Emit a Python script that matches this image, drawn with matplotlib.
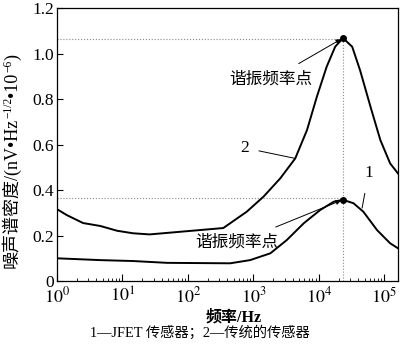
import matplotlib
matplotlib.use("Agg")
import matplotlib.pyplot as plt
from matplotlib.ticker import LogLocator, FixedLocator, NullFormatter
from matplotlib.transforms import IdentityTransform

plt.rcParams['font.family'] = ['Liberation Serif', 'Noto Sans CJK SC']
plt.rcParams['mathtext.fontset'] = 'stix'

# Data (frequency in Hz, noise density)
freq_2 = [1, 1.41, 2.5, 4.6, 8.3, 14.5, 26, 347, 442, 794, 1429, 2570, 4365,
          6607, 9333, 13183, 17783, 23442, 32359, 42658, 61660, 87096,
          123027, 162181]
noise_2 = [0.316, 0.29, 0.255, 0.242, 0.221, 0.21, 0.205, 0.233, 0.254, 0.305,
           0.371, 0.451, 0.539, 0.664, 0.81, 0.942, 1.03, 1.068, 1.03, 0.927,
           0.766, 0.62, 0.517, 0.473]

freq_1 = [1, 4.6, 14.5, 48, 442, 891, 1820, 3236, 5888, 10471, 16982, 23442,
          33884, 47863, 77625, 123027, 162181]
noise_1 = [0.10, 0.092, 0.088, 0.08, 0.078, 0.092, 0.122, 0.18, 0.254, 0.312,
           0.349, 0.357, 0.342, 0.305, 0.224, 0.166, 0.144]

peak_freq = 23442
peak_2 = 1.068
peak_1 = 0.357
guide_2 = 1.062
guide_1 = 0.365

yticks = [0, 0.2, 0.4, 0.6, 0.8, 1.0, 1.2]
ytick_labels = ['0', '0.2', '0.4', '0.6', '0.8', '1.0', '1.2']
xticks = [1, 10, 100, 1000, 10000, 100000]
xtick_labels = [r'$10^{0}$', r'$10^{1}$', r'$10^{2}$', r'$10^{3}$', r'$10^{4}$', r'$10^{5}$']

# y label pieces: (text, is_superscript)
ylabel_parts = [('噪声谱密度/(nV•Hz', False), ('−1/2', True), ('•10', False),
                ('−6', True), (')', False)]

fig = plt.figure(figsize=(4, 3.5), dpi=100)
ax = fig.add_axes([0.1425, 0.197, 0.8525, 0.78])

# guide lines
ax.plot([1, peak_freq], [guide_2, guide_2], color='#888888', lw=0.8, ls=':')
ax.plot([1, peak_freq], [guide_1, guide_1], color='#888888', lw=0.8, ls=':')
ax.plot([peak_freq, peak_freq], [0, peak_2], color='#888888', lw=0.8, ls=':')

ax.plot(freq_2, noise_2, color='black', lw=1.4, solid_joinstyle='round')
ax.plot(freq_1, noise_1, color='black', lw=1.4, solid_joinstyle='round')
ax.plot([peak_freq, peak_freq], [peak_2, peak_1], 'o', color='black', ms=4, ls='none')

ax.set_xscale('log')
ax.set_xlim(1, 162181)
ax.set_ylim(0, 1.2)
ax.set_yticks(yticks)
ax.set_yticklabels(ytick_labels, fontsize=12.5)
ax.xaxis.set_major_locator(FixedLocator(xticks))
ax.set_xticklabels(xtick_labels, fontsize=13)
ax.xaxis.set_minor_locator(LogLocator(base=10, subs=range(2, 10), numticks=20))
ax.xaxis.set_minor_formatter(NullFormatter())
ax.tick_params(axis='both', which='major', direction='in', length=4, width=0.8, pad=2)
ax.tick_params(axis='x', which='minor', direction='in', length=2.5, width=0.6)
ax.tick_params(axis='x', which='major', length=5, pad=4)
for s in ax.spines.values():
    s.set_linewidth(0.9)

# annotations
ax.annotate('谐振频率点', xy=(peak_freq * 0.93, peak_2 - 0.005), xytext=(1820, 0.884),
            ha='center', va='center', fontsize=12,
            arrowprops=dict(arrowstyle='-|>', color='black', lw=0.7,
                            mutation_scale=7, shrinkA=8, shrinkB=0))
ax.annotate('谐振频率点', xy=(peak_freq * 0.93, peak_1 - 0.003), xytext=(550, 0.167),
            ha='center', va='center', fontsize=12,
            arrowprops=dict(arrowstyle='-|>', color='black', lw=0.7,
                            mutation_scale=7, shrinkA=10, shrinkB=0))
ax.annotate('2', xy=(4365, 0.539), xytext=(745, 0.585), ha='center', va='center',
            fontsize=12.5,
            arrowprops=dict(arrowstyle='-', color='black', lw=0.7, shrinkA=5, shrinkB=0))
ax.annotate('1', xy=(45900, 0.321), xytext=(57500, 0.475), ha='center', va='center',
            fontsize=12.5,
            arrowprops=dict(arrowstyle='-', color='black', lw=0.7, shrinkA=7, shrinkB=0))

fig.text(0.583, 0.092, '频率/Hz', ha='center', va='center', fontsize=11.5, fontweight='bold')
fig.text(0.5, 0.051, '1—JFET 传感器；2—传统的传感器', ha='center', va='center', fontsize=10.3)

# y label built from pieces (rotated), laid out in pixel coordinates
renderer = fig.canvas.get_renderer()
base_x = 17.0
texts = []
for txt, sup in ylabel_parts:
    t = fig.text(0, 0, txt, rotation=90, rotation_mode='anchor', ha='left',
                 va='baseline', fontsize=8.3 if sup else 13,
                 transform=IdentityTransform())
    texts.append((t, sup))
lengths = [t.get_window_extent(renderer).height for t, _ in texts]
total = sum(lengths)
center_y = 350 - 161
y = center_y - total / 2
for (t, sup), L in zip(texts, lengths):
    t.set_position((base_x - (6 if sup else 0), y))
    y += L

fig.savefig('out.png', dpi=100)
